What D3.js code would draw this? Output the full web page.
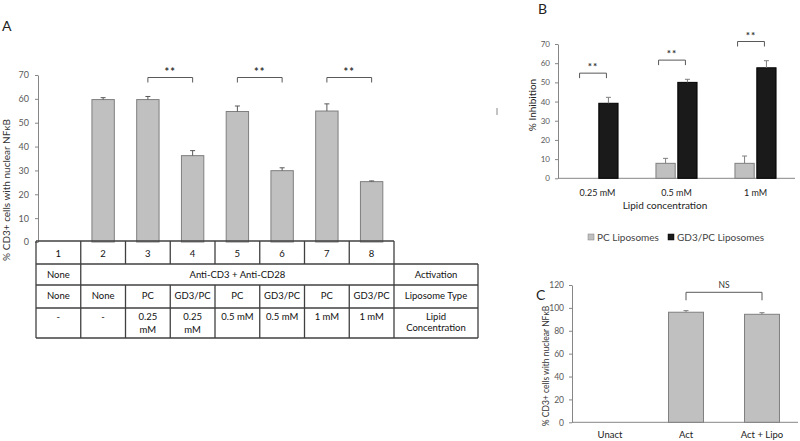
<!DOCTYPE html>
<html><head><meta charset="utf-8">
<script src="https://cdn.jsdelivr.net/npm/d3@7"></script>
<style>
body{margin:0;background:#fff;}
svg{display:block;font-family:Lato,"Open Sans",sans-serif;}
</style></head>
<body><svg id="c" width="800" height="441"></svg>
<script>
// ---------- Panel A data ----------
const lanesA = ["1","2","3","4","5","6","7","8"];
const valuesA = [0, 59.7, 59.7, 36.2, 54.7, 29.9, 54.9, 25.3];
const errorsA = [0, 0.8, 1.3, 2.1, 2.3, 1.2, 3.0, 0.3];
const ticksA = [0,10,20,30,40,50,60,70];
const sigA = [["3","4","**"],["5","6","**"],["7","8","**"]];
const activationRow = ["None","Anti-CD3 + Anti-CD28"];
const liposomeRow = ["None","None","PC","GD3/PC","PC","GD3/PC","PC","GD3/PC"];
const concRow = [["-"],["-"],["0.25","mM"],["0.25","mM"],["0.5 mM"],["0.5 mM"],["1 mM"],["1 mM"]];
const rowTitles = [[], ["Activation"], ["Liposome Type"], ["Lipid","Concentration"]];

// ---------- Panel B data ----------
const concB = ["0.25 mM","0.5 mM","1 mM"];
const seriesB = ["PC Liposomes","GD3/PC Liposomes"];
const pcB = [0, 7.8, 7.8];
const pcErrB = [0, 2.6, 3.8];
const gd3B = [39.1, 50.0, 57.6];
const gd3ErrB = [3.1, 1.6, 3.7];
const ticksB = [0,10,20,30,40,50,60,70];
const sigB = ["**","**","**"];

// ---------- Panel C data ----------
const catsC = ["Unact","Act","Act + Lipo"];
const valuesC = [0, 96.2, 94.4];
const errC = [0, 1.4, 1.4];
const ticksC = [0,20,40,60,80,100,120];
const sigC = [["Act","Act + Lipo","NS"]];

const svg = d3.select("#c");
const axisCol = "#868686", tickTxt = "#595959", barGray = "#c0c0c0", barGrayStroke = "#7f7f7f";

function styleAxis(g, fs){
  g.select(".domain").attr("stroke", axisCol);
  g.selectAll(".tick line").attr("stroke", axisCol);
  g.selectAll(".tick text").attr("fill", tickTxt).attr("font-size", fs).attr("font-family","Lato, sans-serif");
}
function panelLabel(t,x,y){ svg.append("text").attr("x",x).attr("y",y).attr("font-size",14).attr("fill","#222").text(t); }

// ================= Panel A =================
panelLabel("A", 2, 31);
const xA = d3.scaleBand().domain(lanesA).range([36, 394]).paddingInner(0.5).paddingOuter(0.25);
const yA = d3.scaleLinear().domain([0,70]).range([242, 75]);
const gA = svg.append("g");
gA.append("g").attr("transform","translate(38,0)")
  .call(d3.axisLeft(yA).tickValues(ticksA).tickSize(3).tickSizeOuter(0).tickPadding(6))
  .call(g=>styleAxis(g,9));
gA.selectAll("rect.bar").data(lanesA).join("rect")
  .attr("x", d=>xA(d)).attr("width", xA.bandwidth())
  .attr("y", (d,i)=>yA(valuesA[i])).attr("height",(d,i)=>yA(0)-yA(valuesA[i]))
  .attr("fill", barGray).attr("stroke", barGrayStroke).attr("stroke-width",1)
  .attr("display",(d,i)=>valuesA[i]>0?null:"none");
lanesA.forEach((d,i)=>{
  if(!valuesA[i]) return;
  const cx = xA(d)+xA.bandwidth()/2;
  gA.append("line").attr("x1",cx).attr("x2",cx).attr("y1",yA(valuesA[i])).attr("y2",yA(valuesA[i]+errorsA[i])).attr("stroke","#595959");
  gA.append("line").attr("x1",cx-2.5).attr("x2",cx+2.5).attr("y1",yA(valuesA[i]+errorsA[i])).attr("y2",yA(valuesA[i]+errorsA[i])).attr("stroke","#595959");
});
sigA.forEach(([a,b,t])=>{
  const x1 = xA(a)+xA.bandwidth()/2, x2 = xA(b)+xA.bandwidth()/2, yt = 77.5;
  gA.append("path").attr("d",`M${x1},${yt+5}V${yt}H${x2}V${yt+5}`).attr("fill","none").attr("stroke","#595959");
  gA.append("text").attr("x",(x1+x2)/2).attr("y",yt-2).attr("text-anchor","middle").attr("font-size",11).attr("font-weight","bold").attr("fill","#333").attr("letter-spacing",1).text(t);
});
gA.append("text").attr("transform","translate(10,190) rotate(-90)").attr("text-anchor","middle").attr("font-size",10).attr("fill","#333").text("% CD3+ cells with nuclear NFκB");

// table
const step = xA.step();
const colEdges = d3.range(9).map(i=>36+i*step);
const rightEdge = 478;
const rowsY = [241, 264, 285, 308, 338];
const tb = svg.append("g").attr("font-size",9.5).attr("fill","#111").attr("text-anchor","middle");
const lc = "#404040";
function hl(x1,x2,y){ tb.append("line").attr("x1",x1).attr("x2",x2).attr("y1",y).attr("y2",y).attr("stroke",lc).attr("stroke-width",1.3); }
function vl(x,y1,y2){ tb.append("line").attr("x1",x).attr("x2",x).attr("y1",y1).attr("y2",y2).attr("stroke",lc).attr("stroke-width",1.3); }
hl(colEdges[0], colEdges[8], rowsY[0]);
rowsY.slice(1).forEach(y=>hl(colEdges[0], rightEdge, y));
vl(colEdges[0], rowsY[0], rowsY[4]);
vl(colEdges[8], rowsY[0], rowsY[4]);
vl(rightEdge, rowsY[1], rowsY[4]);
colEdges.slice(1,8).forEach(x=>{ vl(x, rowsY[0], rowsY[1]); vl(x, rowsY[2], rowsY[4]); });
vl(colEdges[1], rowsY[1], rowsY[2]);
const colC = i=>(colEdges[i]+colEdges[i+1])/2;
lanesA.forEach((d,i)=>tb.append("text").attr("x",colC(i)).attr("y",257).text(d));
tb.append("text").attr("x",colC(0)).attr("y",277.5).text(activationRow[0]);
tb.append("text").attr("x",(colEdges[1]+colEdges[8])/2).attr("y",277.5).text(activationRow[1]);
liposomeRow.forEach((d,i)=>tb.append("text").attr("x",colC(i)).attr("y",298.5).text(d));
concRow.forEach((lines,i)=>lines.forEach((l,j)=>tb.append("text").attr("x",colC(i)).attr("y",320+j*13).text(l)));
const rcx = (colEdges[8]+rightEdge)/2;
tb.append("text").attr("x",rcx).attr("y",277.5).text(rowTitles[1][0]);
tb.append("text").attr("x",rcx).attr("y",298.5).text(rowTitles[2][0]);
rowTitles[3].forEach((l,j)=>tb.append("text").attr("x",rcx).attr("y",320+j*11).text(l));

// ================= Panel B =================
panelLabel("B", 538, 14);
const xB = d3.scaleBand().domain(concB).range([558, 795]).paddingInner(0.48).paddingOuter(0.24);
const xBs = d3.scaleBand().domain(seriesB).range([0, xB.bandwidth()]).paddingInner(0.12);
const yB = d3.scaleLinear().domain([0,70]).range([178.3, 44]);
const gB = svg.append("g");
gB.append("g").attr("transform","translate(558,0)")
  .call(d3.axisLeft(yB).tickValues(ticksB).tickSize(3).tickSizeOuter(0).tickPadding(5))
  .call(g=>styleAxis(g,8));
gB.append("line").attr("x1",558).attr("x2",795).attr("y1",yB(0)).attr("y2",yB(0)).attr("stroke",axisCol);
const dataB = [pcB, gd3B], errB = [pcErrB, gd3ErrB], fillB = [barGray,"#1a1a1a"], strokeB=[barGrayStroke,"#000"];
seriesB.forEach((s,si)=>{
  concB.forEach((c,ci)=>{
    const v = dataB[si][ci]; if(!v) return;
    const x = xB(c)+xBs(s), w = xBs.bandwidth(), cx = x+w/2;
    gB.append("rect").attr("x",x).attr("width",w).attr("y",yB(v)).attr("height",yB(0)-yB(v)).attr("fill",fillB[si]).attr("stroke",strokeB[si]);
    const e = errB[si][ci];
    gB.append("line").attr("x1",cx).attr("x2",cx).attr("y1",yB(v)).attr("y2",yB(v+e)).attr("stroke","#7f7f7f");
    gB.append("line").attr("x1",cx-2.5).attr("x2",cx+2.5).attr("y1",yB(v+e)).attr("y2",yB(v+e)).attr("stroke","#7f7f7f");
  });
});
concB.forEach((c,ci)=>{
  const x1 = xB(c)+xBs(seriesB[0])+xBs.bandwidth()/2;
  const x2 = xB(c)+xBs(seriesB[1])+xBs.bandwidth()/2 - 2;
  const top = Math.max(gd3B[ci]+gd3ErrB[ci], pcB[ci]+pcErrB[ci]) + 10;
  const yt = yB(top)+ (ci===0?-5:0);
  gB.append("path").attr("d",`M${x1-7},${yt+5}V${yt}H${x2}V${yt+5}`).attr("fill","none").attr("stroke","#595959");
  gB.append("text").attr("x",(x1-7+x2)/2).attr("y",yt-3).attr("text-anchor","middle").attr("font-size",10).attr("font-weight","bold").attr("fill","#333").attr("letter-spacing",1).text(sigB[ci]);
  gB.append("text").attr("x",xB(c)+xB.bandwidth()/2).attr("y",196).attr("text-anchor","middle").attr("font-size",9).attr("fill","#222").text(c);
});
gB.append("text").attr("x",665).attr("y",209).attr("text-anchor","middle").attr("font-size",10).attr("fill","#222").text("Lipid concentration");
gB.append("text").attr("transform","translate(536,105) rotate(-90)").attr("text-anchor","middle").attr("font-size",10).attr("fill","#222").text("% Inhibition");
gB.append("line").attr("x1",497).attr("x2",497).attr("y1",108).attr("y2",115).attr("stroke","#888");
// legend
const lg = svg.append("g").attr("font-size",10).attr("fill","#444");
const lgX = [588, 668];
seriesB.forEach((s,i)=>{
  lg.append("rect").attr("x",lgX[i]).attr("y",234).attr("width",6).attr("height",6).attr("fill",fillB[i]).attr("stroke",strokeB[i]).attr("stroke-width",0.5);
  lg.append("text").attr("x",lgX[i]+9).attr("y",241).text(s);
});

// ================= Panel C =================
panelLabel("C", 536, 300);
const xC = d3.scaleBand().domain(catsC).range([572, 800]).paddingInner(0.54).paddingOuter(0.27);
const yC = d3.scaleLinear().domain([0,120]).range([422.3, 285]);
const gC = svg.append("g");
gC.append("g").attr("transform","translate(572,0)")
  .call(d3.axisLeft(yC).tickValues(ticksC).tickSize(3).tickSizeOuter(0).tickPadding(5))
  .call(g=>styleAxis(g,8.5));
gC.append("line").attr("x1",572).attr("x2",798).attr("y1",yC(0)).attr("y2",yC(0)).attr("stroke",axisCol);
catsC.forEach((c,i)=>{
  const v = valuesC[i], x = xC(c), w = xC.bandwidth(), cx = x+w/2;
  if(v){
    gC.append("rect").attr("x",x).attr("width",w).attr("y",yC(v)).attr("height",yC(0)-yC(v)).attr("fill",barGray).attr("stroke",barGrayStroke);
    gC.append("line").attr("x1",cx).attr("x2",cx).attr("y1",yC(v)).attr("y2",yC(v+errC[i])).attr("stroke","#7f7f7f");
    gC.append("line").attr("x1",cx-2.5).attr("x2",cx+2.5).attr("y1",yC(v+errC[i])).attr("y2",yC(v+errC[i])).attr("stroke","#7f7f7f");
  }
  gC.append("text").attr("x",cx).attr("y",438).attr("text-anchor","middle").attr("font-size",9.5).attr("fill","#222").text(c);
});
sigC.forEach(([a,b,t])=>{
  const x1 = xC(a)+xC.bandwidth()/2, x2 = xC(b)+xC.bandwidth()/2, yt = 292.3;
  gC.append("path").attr("d",`M${x1},${yt+8}V${yt}H${x2}V${yt+8}`).attr("fill","none").attr("stroke","#595959");
  gC.append("text").attr("x",(x1+x2)/2).attr("y",yt-4).attr("text-anchor","middle").attr("font-size",8.5).attr("fill","#333").text(t);
});
gC.append("text").attr("transform","translate(549,366) rotate(-90)").attr("text-anchor","middle").attr("font-size",8.5).attr("fill","#333").text("% CD3+ cells with nuclear NFκB");
</script></body></html>
